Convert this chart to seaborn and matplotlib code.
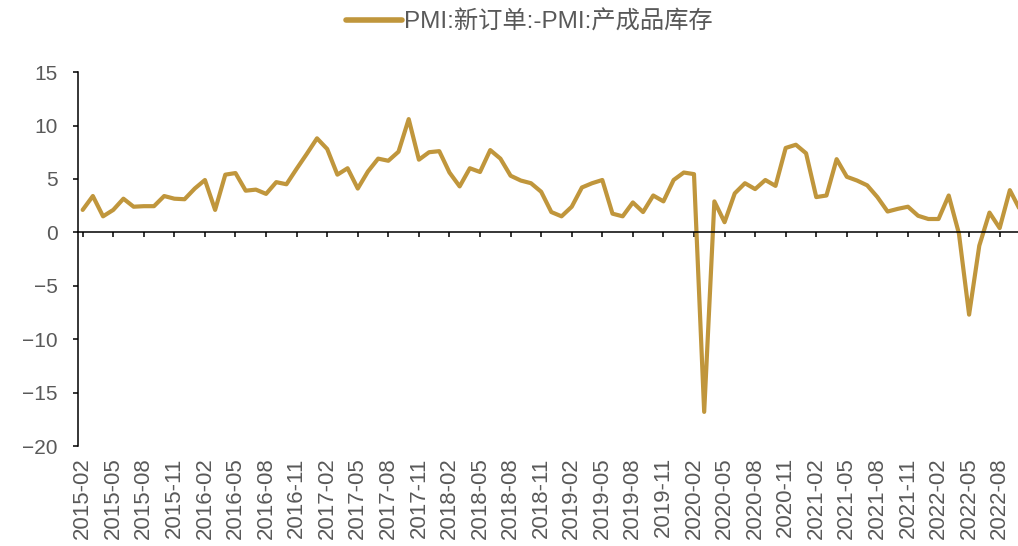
import numpy as np
import pandas as pd
import matplotlib
matplotlib.use("Agg")
import matplotlib.pyplot as plt
import seaborn as sns

# PMI new orders minus PMI finished goods inventory, monthly
values = [
    2.1, 3.4, 1.5, 2.1, 3.15, 2.4, 2.45, 2.45, 3.4, 3.15,
    3.1, 4.1, 4.9, 2.1, 5.4, 5.55, 3.9, 4.0, 3.6, 4.7,
    4.5, 5.95, 7.35, 8.8, 7.8, 5.4, 6.0, 4.1, 5.7, 6.9,
    6.7, 7.55, 10.6, 6.8, 7.5, 7.6, 5.6, 4.3, 6.0, 5.65,
    7.7, 6.9, 5.3, 4.85, 4.6, 3.8, 1.9, 1.5, 2.4, 4.2,
    4.6, 4.9, 1.75, 1.5, 2.8, 1.9, 3.45, 2.9, 4.9, 5.6,
    5.45, -16.8, 2.9, 0.95, 3.65, 4.6, 4.05, 4.9, 4.35, 7.9,
    8.2, 7.4, 3.3, 3.45, 6.85, 5.2, 4.85, 4.4, 3.3, 1.95,
    2.2, 2.4, 1.55, 1.25, 1.25, 3.45, -0.1, -7.7, -1.25, 1.85,
    0.4, 3.95, 2.1,
]
dates = pd.date_range("2015-02-01", periods=len(values), freq="MS").strftime("%Y-%m")
series_name = "PMI:新订单:-PMI:产成品库存"
y_ticks = [15, 10, 5, 0, -5, -10, -15, -20]

sns.set_theme(style="white")
plt.rcParams['font.family'] = ['Liberation Sans', 'Noto Sans CJK SC', 'DejaVu Sans']
plt.rcParams['axes.unicode_minus'] = False

line_color = "#C0963C"
text_color = "#595959"

df = pd.DataFrame({"idx": np.arange(len(values)), "value": values, "series": series_name})

fig = plt.figure(figsize=(10.18, 5.46), dpi=100)
ax = fig.add_axes([0.0766, 0.183, 0.9234, 0.685])

sns.lineplot(data=df, x="idx", y="value", ax=ax, color=line_color, linewidth=3.0,
             label=series_name, legend=False)

ax.set_xlim(-0.46, 91.8)
ax.set_ylim(-20, 15)
ax.set_yticks(y_ticks)
ax.set_yticklabels([str(v).replace("-", "−") for v in y_ticks])
ax.set_xlabel("")
ax.set_ylabel("")

for side in ["top", "right"]:
    ax.spines[side].set_visible(False)
ax.spines["left"].set_color("black")
ax.spines["left"].set_linewidth(1.1)
ax.spines["bottom"].set_position(("data", 0))
ax.spines["bottom"].set_color("black")
ax.spines["bottom"].set_linewidth(1.1)

tick_pos = np.arange(0, len(values), 3)
ax.set_xticks(tick_pos)
ax.tick_params(axis="x", bottom=True, direction="out", length=3.5, width=1.1, color="black",
               labelbottom=False)
ax.tick_params(axis="y", left=True, direction="out", length=3.5, width=1.1, color="black",
               labelsize=15, labelcolor=text_color, pad=11)

sec = ax.secondary_xaxis("bottom")
sec.set_xticks(tick_pos)
sec.set_xticklabels(dates[::3], rotation=90)
sec.spines["bottom"].set_visible(False)
sec.tick_params(axis="x", length=0, labelsize=16, labelcolor=text_color, pad=8)

handles, labels = ax.get_legend_handles_labels()
leg = fig.legend(handles, labels, loc="center", bbox_to_anchor=(0.52, 0.96), frameon=False,
                 fontsize=17.5, handlelength=2.3, handletextpad=0.1)
for t in leg.get_texts():
    t.set_color(text_color)
for h in leg.get_lines():
    h.set_linewidth(4)

fig.savefig("out.png", dpi=100)
